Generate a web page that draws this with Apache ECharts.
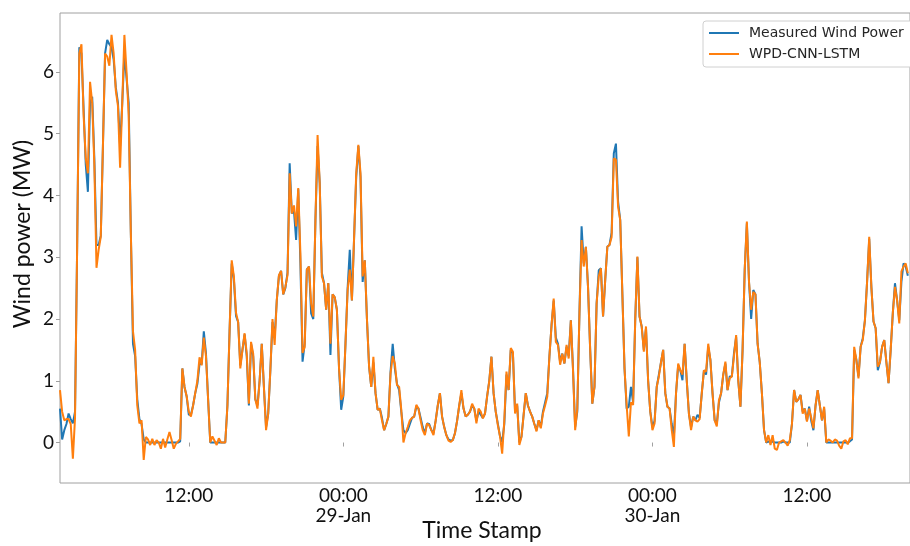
<!DOCTYPE html>
<html>
<head>
<meta charset="utf-8">
<script src="https://cdn.jsdelivr.net/npm/echarts@6/dist/echarts.min.js"></script>
<style>html,body{margin:0;padding:0;background:#fff}#c{width:910px;height:546px}</style>
</head>
<body>
<div id="c"></div>
<script>
// sampling grid: 10-minute steps, hours counted from 28-Jan 00:00
const startHour = 2;
const stepHour = 1 / 6;

const measured = [
0.55,0.05,0.2,0.3,0.47,0.38,0.31,0.5,3.2,6.4,
6.3,5.4,4.5,4.06,5.5,5.6,4.6,3.2,3.2,3.35,
4.8,6.3,6.52,6.45,6.4,6.2,5.75,5.5,4.8,5.5,
6.3,5.9,5.5,3.4,1.6,1.4,0.7,0.38,0.3,0.05,
0,0,0,0,0,0,0,0,0,0,
0,0,0,0,0,0,0.02,1.2,0.9,0.75,
0.45,0.45,0.6,0.8,0.95,1.27,1.27,1.8,1.45,0.7,
0,0,0,0,0,0,0,0,0.6,1.8,
2.9,2.65,2.05,1.95,1.25,1.5,1.75,1.4,0.6,1.6,
1.4,0.7,0.6,1.0,1.6,0.9,0.25,0.47,1.17,1.95,
1.7,2.3,2.7,2.78,2.4,2.5,2.75,4.52,3.71,3.75,
3.28,4.1,2.9,1.31,1.6,2.8,2.85,2.09,2.0,3.6,
4.8,4.2,2.75,2.58,2.15,2.58,1.42,2.4,2.35,2.15,
1.2,0.53,0.75,1.6,2.5,3.12,2.3,3.3,4.3,4.8,
4.3,2.6,2.95,2.0,1.23,0.9,1.3,0.8,0.53,0.55,
0.4,0.2,0.3,0.42,1.15,1.6,1.2,0.95,0.85,0.5,
0.2,0.15,0.2,0.3,0.4,0.42,0.58,0.55,0.4,0.25,
0.15,0.31,0.3,0.2,0.15,0.35,0.6,0.8,0.42,0.25,
0.12,0.05,0.03,0.04,0.15,0.35,0.6,0.8,0.55,0.42,
0.45,0.5,0.6,0.55,0.35,0.5,0.45,0.4,0.47,0.75,
1.0,1.39,0.8,0.5,0.3,0.1,0.01,0.3,1.1,0.85,
1.5,1.45,0.5,0.6,0.0,0.1,0.45,0.8,0.6,0.5,
0.42,0.3,0.2,0.36,0.25,0.5,0.65,0.8,1.39,1.9,
2.3,1.7,1.6,1.3,1.44,1.28,1.55,1.4,1.98,1.2,
0.25,0.5,2.1,3.5,2.9,3.17,2.52,1.5,0.63,0.9,
2.25,2.79,2.82,2.04,2.63,3.17,3.2,3.4,4.68,4.84,
3.9,3.6,2.4,1.2,0.55,0.58,0.9,0.65,2.0,3.0,
2.04,1.88,1.5,1.85,1.0,0.5,0.25,0.35,0.9,1.1,
1.3,1.5,0.8,0.58,0.55,0.3,0.1,0.8,1.25,1.17,
1.01,1.6,1.0,0.47,0.25,0.42,0.36,0.45,0.4,0.8,
1.17,1.1,1.55,1.34,0.8,0.36,0.3,0.65,0.8,1.1,
1.28,0.85,1.07,1.07,1.45,1.71,1.0,0.58,1.5,2.8,
3.55,2.6,2.0,2.47,2.4,1.6,1.3,0.8,0.2,0.0,
0.02,0,0.02,0,0,0,0,0.02,0,0,
0,0.3,0.85,0.66,0.7,0.77,0.5,0.55,0.35,0.58,
0.35,0.2,0.6,0.85,0.6,0.36,0.55,0,0,0,
0,0,0,0,0,0,0,0,0.02,0.05,
1.5,1.34,1.07,1.55,1.69,1.98,2.6,3.3,2.52,1.96,
1.85,1.17,1.3,1.55,1.66,1.3,0.96,1.5,2.1,2.58,
2.3,1.98,2.6,2.9,2.85,2.7
];

const predicted = [
0.85,0.5,0.36,0.38,0.38,0.3,-0.26,0.4,3.2,6.3,
6.45,5.3,4.6,4.36,5.84,5.5,4.5,2.83,3.12,3.33,
4.8,6.3,6.25,6.1,6.6,6.3,5.7,5.45,4.45,5.5,
6.6,6.0,5.3,3.4,1.8,1.5,0.6,0.31,0.36,-0.28,
0.09,0.05,-0.04,0.06,-0.04,0.04,0.0,-0.1,0.06,-0.08,
0.05,0.17,0.04,-0.1,-0.02,0.02,0.06,1.2,0.9,0.75,
0.5,0.42,0.6,0.8,1.0,1.38,1.25,1.7,1.4,0.7,
0.0,0.1,0.03,-0.04,0.07,0.0,0.0,0.0,0.6,1.8,
2.95,2.69,2.1,1.95,1.2,1.5,1.77,1.44,0.63,1.63,
1.44,0.7,0.55,1.0,1.6,0.9,0.2,0.47,1.17,2.0,
1.58,2.31,2.71,2.78,2.4,2.52,2.71,4.36,3.71,3.84,
3.5,4.12,3.06,1.45,1.55,2.8,2.85,2.25,2.04,3.6,
4.98,4.2,2.69,2.58,2.15,2.58,1.6,2.4,2.35,2.15,
1.2,0.69,0.77,1.6,2.47,2.8,2.3,3.3,4.36,4.82,
4.36,2.69,2.95,2.0,1.23,0.9,1.39,0.8,0.53,0.55,
0.36,0.2,0.3,0.42,1.12,1.4,1.28,0.93,0.9,0.53,
0.0,0.15,0.25,0.36,0.4,0.42,0.61,0.55,0.36,0.2,
0.12,0.31,0.28,0.2,0.12,0.35,0.6,0.8,0.42,0.25,
0.12,0.03,0.01,0.04,0.15,0.35,0.6,0.85,0.55,0.42,
0.45,0.5,0.63,0.55,0.31,0.55,0.5,0.39,0.47,0.75,
1.0,1.39,0.8,0.5,0.28,0.1,-0.18,0.36,1.15,0.85,
1.53,1.47,0.47,0.63,-0.04,0.09,0.45,0.8,0.6,0.5,
0.42,0.3,0.18,0.36,0.23,0.47,0.6,0.74,1.39,1.9,
2.33,1.63,1.58,1.26,1.44,1.28,1.58,1.36,1.98,1.17,
0.2,0.55,2.09,3.28,2.85,3.17,2.52,1.5,0.63,0.9,
2.25,2.69,2.82,2.04,2.63,3.17,3.2,3.33,4.6,4.58,
3.82,3.6,2.4,1.2,0.6,0.1,0.65,0.61,2.0,3.01,
2.04,1.88,1.47,1.88,1.0,0.5,0.2,0.31,0.9,1.07,
1.3,1.5,0.8,0.58,0.55,0.2,-0.07,0.8,1.28,1.17,
1.1,1.6,1.0,0.47,0.2,0.42,0.36,0.34,0.38,0.8,
1.17,1.15,1.6,1.34,0.8,0.36,0.26,0.69,0.8,1.1,
1.31,0.85,1.04,1.07,1.4,1.74,1.0,0.58,1.5,2.8,
3.58,2.6,2.15,2.44,2.4,1.6,1.3,0.8,0.2,0.0,
0.12,-0.04,0.12,-0.1,-0.12,0.0,0.02,0.04,0.0,-0.05,
0.04,0.3,0.85,0.66,0.7,0.77,0.47,0.55,0.34,0.55,
0.4,0.23,0.6,0.85,0.6,0.36,0.58,0.0,0.05,0.03,
0.0,0.05,0.03,-0.05,-0.1,0.02,0.04,-0.03,0.07,0.07,
1.55,1.34,1.04,1.55,1.66,1.98,2.6,3.33,2.52,1.96,
1.85,1.23,1.3,1.55,1.66,1.3,0.96,1.5,2.1,2.52,
2.3,1.93,2.77,2.85,2.9,2.74
];

const xTickValues = [12, 24, 36, 48, 60];
const xTickLabels = ['12:00', '00:00\n29-Jan', '12:00', '00:00\n30-Jan', '12:00'];
const yTickValues = [0, 1, 2, 3, 4, 5, 6];
const seriesNames = ['Measured Wind Power', 'WPD-CNN-LSTM'];

const toPairs = arr => arr.map((v, i) => [startHour + i * stepHour, v]);

const chart = echarts.init(document.getElementById('c'), null, {renderer: 'canvas'});
const tickFont = 'Lato, "Open Sans", sans-serif';
chart.setOption({
  animation: false,
  backgroundColor: '#ffffff',
  grid: {left: 60, right: -2, top: 13, bottom: 63, show: true, borderColor: '#a0a0a0', borderWidth: 1, backgroundColor: 'transparent'},
  legend: {
    left: 703, top: 21, orient: 'vertical',
    itemWidth: 30, itemHeight: 14, itemGap: 7,
    padding: [5, 12, 6, 5],
    backgroundColor: '#ffffff', borderColor: '#d0d0d0', borderWidth: 1, borderRadius: 3,
    itemStyle: {opacity: 0},
    lineStyle: {width: 2},
    textStyle: {fontFamily: '"DejaVu Sans", sans-serif', fontSize: 14, color: '#262626', padding: [0, 0, 0, 5]},
    data: seriesNames
  },
  xAxis: {
    type: 'value', min: 2, max: 68,
    axisLine: {show: false},
    splitLine: {show: false},
    axisTick: {show: true, length: 4, lineStyle: {color: '#a0a0a0'}, customValues: xTickValues},
    axisLabel: {
      customValues: xTickValues,
      margin: 3,
      fontFamily: tickFont, fontSize: 19, lineHeight: 20, color: '#111',
      formatter: v => { const k = xTickValues.indexOf(Math.round(v)); return k >= 0 ? xTickLabels[k] : ''; }
    }
  },
  yAxis: {
    type: 'value', min: -0.655, max: 6.955,
    axisLine: {show: false},
    splitLine: {show: false},
    axisTick: {show: true, length: 4, lineStyle: {color: '#a0a0a0'}, customValues: yTickValues},
    axisLabel: {customValues: yTickValues, margin: 6, fontFamily: tickFont, fontSize: 19, color: '#111',
      formatter: v => String(Math.round(v))}
  },
  graphic: [
    {type: 'text', x: 482, y: 531, style: {text: 'Time Stamp', font: '23px Lato, sans-serif', fill: '#111', align: 'center', verticalAlign: 'middle'}},
    {type: 'text', x: 23, y: 234, rotation: Math.PI / 2, style: {text: 'Wind power (MW)', font: '23px Lato, sans-serif', fill: '#111', align: 'center', verticalAlign: 'middle'}}
  ],
  series: [
    {name: seriesNames[0], type: 'line', data: toPairs(measured), symbol: 'none', clip: true,
      lineStyle: {color: '#1f77b4', width: 2}, itemStyle: {color: '#1f77b4'}},
    {name: seriesNames[1], type: 'line', data: toPairs(predicted), symbol: 'none', clip: true,
      lineStyle: {color: '#ff7f0e', width: 2}, itemStyle: {color: '#ff7f0e'}}
  ]
});
</script>
</body>
</html>
